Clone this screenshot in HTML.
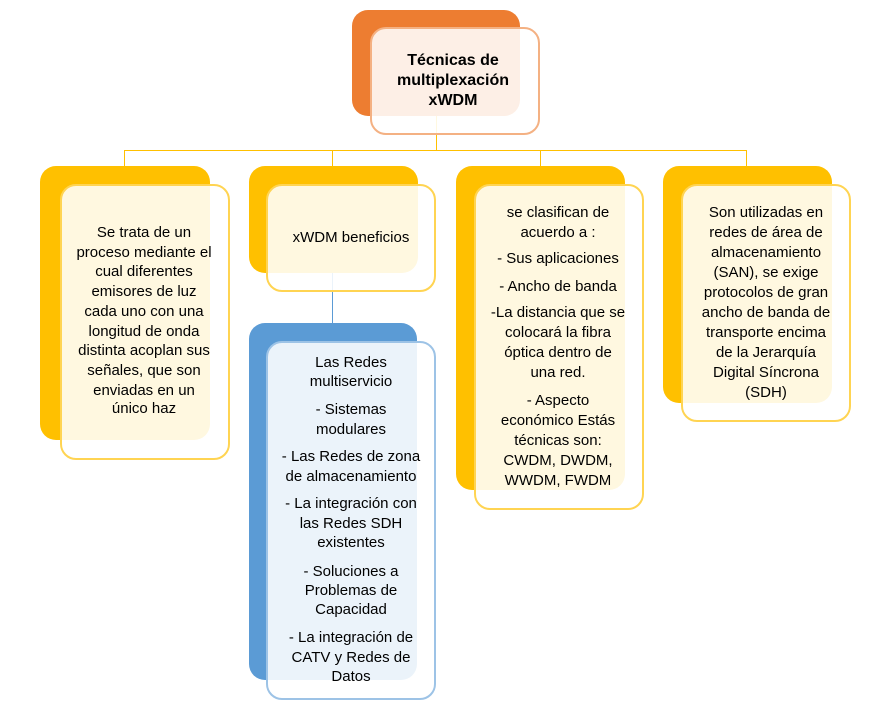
<!DOCTYPE html>
<html><head><meta charset="utf-8"><style>
body{margin:0;width:878px;height:707px;background:#fff;position:relative;overflow:hidden;font-family:"Liberation Sans",sans-serif;color:#000}
.b{position:absolute;border-radius:16px}
.f{position:absolute;border-radius:16px;background:rgba(255,255,255,0.88);border:2px solid;box-sizing:border-box}
.l{position:absolute;background:#FFC000}
.t{position:absolute;width:240px;text-align:center;font-size:15px;line-height:20px;height:20px;white-space:nowrap}
</style></head><body>
<div class="l" style="left:436px;top:115px;width:1px;height:36px"></div>
<div class="l" style="left:124px;top:150px;width:623px;height:1px"></div>
<div class="l" style="left:124px;top:150px;width:1px;height:17px"></div>
<div class="l" style="left:332px;top:150px;width:1px;height:17px"></div>
<div class="l" style="left:540px;top:150px;width:1px;height:17px"></div>
<div class="l" style="left:746px;top:150px;width:1px;height:17px"></div>
<div class="l" style="left:332px;top:273px;width:1px;height:52px;background:#5B9BD5"></div>

<div class="b" style="left:352px;top:10px;width:168px;height:106px;background:#ED7D31"></div>
<div class="f" style="left:370px;top:27px;width:170px;height:108px;border-color:#F4B183"></div>

<div class="b" style="left:40px;top:166px;width:170px;height:274px;background:#FFC000"></div>
<div class="f" style="left:60px;top:184px;width:170px;height:276px;border-color:#FFD452"></div>
<div class="b" style="left:249px;top:166px;width:169px;height:107px;background:#FFC000"></div>
<div class="f" style="left:266px;top:184px;width:170px;height:108px;border-color:#FFD452"></div>
<div class="b" style="left:249px;top:323px;width:168px;height:357px;background:#5B9BD5"></div>
<div class="f" style="left:266px;top:341px;width:170px;height:359px;border-color:#9DC3E6"></div>
<div class="b" style="left:456px;top:166px;width:169px;height:324px;background:#FFC000"></div>
<div class="f" style="left:474px;top:184px;width:170px;height:326px;border-color:#FFD452"></div>
<div class="b" style="left:663px;top:166px;width:169px;height:237px;background:#FFC000"></div>
<div class="f" style="left:681px;top:184px;width:170px;height:238px;border-color:#FFD452"></div>

<div class="t" style="left:333px;top:51px;font-weight:bold;font-size:16px">Técnicas de</div>
<div class="t" style="left:333px;top:71px;font-weight:bold;font-size:16px">multiplexación</div>
<div class="t" style="left:333px;top:91px;font-weight:bold;font-size:16px">xWDM</div>

<div class="t" style="left:24px;top:223px">Se trata de un</div>
<div class="t" style="left:24px;top:243px">proceso mediante el</div>
<div class="t" style="left:24px;top:262px">cual diferentes</div>
<div class="t" style="left:24px;top:282px">emisores de luz</div>
<div class="t" style="left:24px;top:302px">cada uno con una</div>
<div class="t" style="left:24px;top:322px">longitud de onda</div>
<div class="t" style="left:24px;top:341px">distinta acoplan sus</div>
<div class="t" style="left:24px;top:361px">señales, que son</div>
<div class="t" style="left:24px;top:381px">enviadas en un</div>
<div class="t" style="left:24px;top:399px">único haz</div>

<div class="t" style="left:231px;top:228px">xWDM beneficios</div>

<div class="t" style="left:231px;top:353px">Las Redes</div>
<div class="t" style="left:231px;top:372px">multiservicio</div>
<div class="t" style="left:231px;top:400px">- Sistemas</div>
<div class="t" style="left:231px;top:420px">modulares</div>
<div class="t" style="left:231px;top:447px">- Las Redes de zona</div>
<div class="t" style="left:231px;top:467px">de almacenamiento</div>
<div class="t" style="left:231px;top:494px">- La integración con</div>
<div class="t" style="left:231px;top:514px">las Redes SDH</div>
<div class="t" style="left:231px;top:533px">existentes</div>
<div class="t" style="left:231px;top:562px">- Soluciones a</div>
<div class="t" style="left:231px;top:581px">Problemas de</div>
<div class="t" style="left:231px;top:600px">Capacidad</div>
<div class="t" style="left:231px;top:628px">- La integración de</div>
<div class="t" style="left:231px;top:648px">CATV y Redes de</div>
<div class="t" style="left:231px;top:667px">Datos</div>

<div class="t" style="left:438px;top:203px">se clasifican de</div>
<div class="t" style="left:438px;top:223px">acuerdo a :</div>
<div class="t" style="left:438px;top:249px">- Sus aplicaciones</div>
<div class="t" style="left:438px;top:277px">- Ancho de banda</div>
<div class="t" style="left:438px;top:303px">-La distancia que se</div>
<div class="t" style="left:438px;top:323px">colocará la fibra</div>
<div class="t" style="left:438px;top:343px">óptica dentro de</div>
<div class="t" style="left:438px;top:363px">una red.</div>
<div class="t" style="left:438px;top:391px">- Aspecto</div>
<div class="t" style="left:438px;top:411px">económico Estás</div>
<div class="t" style="left:438px;top:431px">técnicas son:</div>
<div class="t" style="left:438px;top:451px">CWDM, DWDM,</div>
<div class="t" style="left:438px;top:471px">WWDM, FWDM</div>

<div class="t" style="left:646px;top:203px">Son utilizadas en</div>
<div class="t" style="left:646px;top:223px">redes de área de</div>
<div class="t" style="left:646px;top:243px">almacenamiento</div>
<div class="t" style="left:646px;top:263px">(SAN), se exige</div>
<div class="t" style="left:646px;top:283px">protocolos de gran</div>
<div class="t" style="left:646px;top:303px">ancho de banda de</div>
<div class="t" style="left:646px;top:323px">transporte encima</div>
<div class="t" style="left:646px;top:343px">de la Jerarquía</div>
<div class="t" style="left:646px;top:363px">Digital Síncrona</div>
<div class="t" style="left:646px;top:383px">(SDH)</div>
</body></html>
